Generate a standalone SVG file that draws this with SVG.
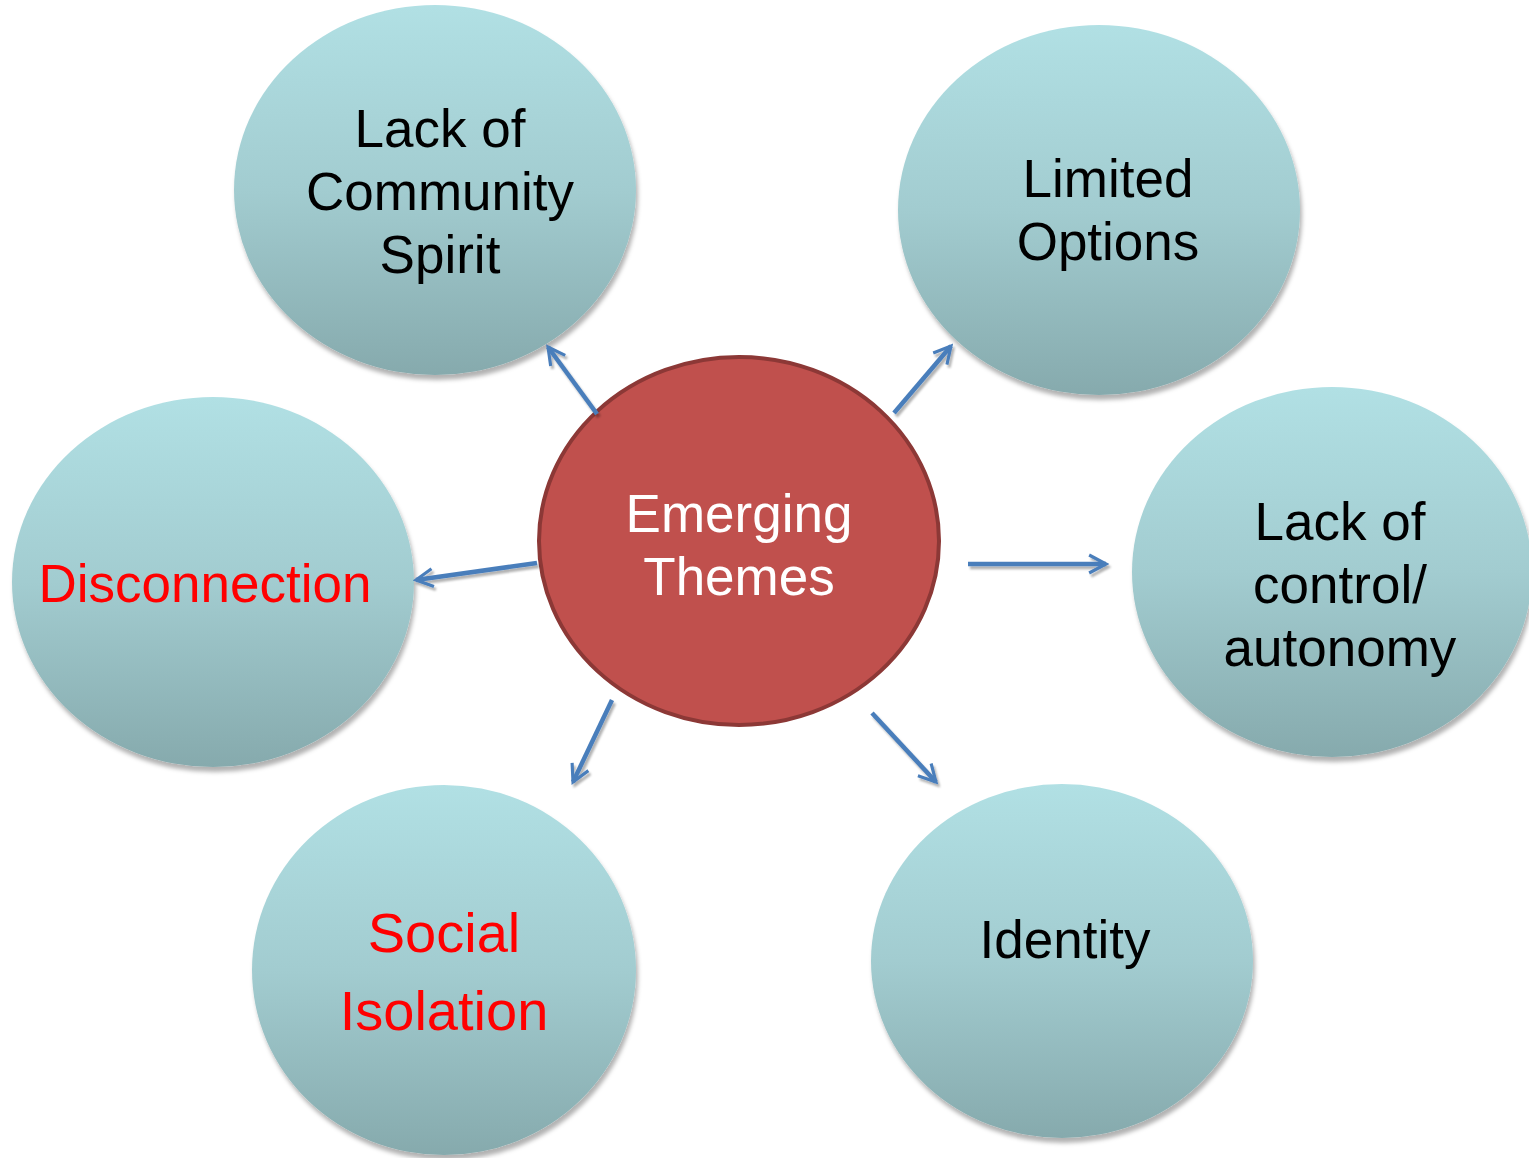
<svg xmlns="http://www.w3.org/2000/svg" width="1529" height="1158" viewBox="0 0 1529 1158">
<style>
.node{fill:url(#teal);filter:url(#sh)}
.t{font-family:"Liberation Sans",Arial,sans-serif;font-size:53px;text-anchor:middle;fill:#000}
.red{fill:#ff0000}
.conn line{stroke:#4a7ebb;stroke-width:4.5;fill:none;marker-end:url(#ah)}
</style>
<defs>
<linearGradient id="teal" x1="0" y1="0" x2="0" y2="1">
<stop offset="0" stop-color="#b1e0e4"/>
<stop offset="0.5" stop-color="#a2ccd0"/>
<stop offset="1" stop-color="#86aaad"/>
</linearGradient>
<filter id="sh" x="-10%" y="-10%" width="125%" height="125%">
<feDropShadow dx="2" dy="5" stdDeviation="2" flood-color="#000" flood-opacity="0.3"/>
</filter>
<filter id="sh2" filterUnits="userSpaceOnUse" x="0" y="0" width="1529" height="1158">
<feDropShadow dx="2" dy="3" stdDeviation="1.2" flood-color="#000" flood-opacity="0.3"/>
</filter>
<marker id="ah" viewBox="0 0 10 10" refX="8.5" refY="5" markerWidth="5" markerHeight="5" orient="auto" markerUnits="strokeWidth">
<path d="M1,1 L8.5,5 L1,9" fill="none" stroke="#4a7ebb" stroke-width="1.4"/>
</marker>
</defs>
<rect width="1529" height="1158" fill="#fff"/>
<g id="n-community">
<ellipse class="node" cx="435" cy="190" rx="201" ry="185"/>
<text class="t" x="440" y="147">Lack of</text>
<text class="t" x="440" y="210">Community</text>
<text class="t" x="440" y="273">Spirit</text>
</g>
<g id="n-options">
<ellipse class="node" cx="1099" cy="210" rx="201" ry="185"/>
<text class="t" x="1108" y="197">Limited</text>
<text class="t" x="1108" y="260">Options</text>
</g>
<g id="n-control">
<ellipse class="node" cx="1332" cy="572" rx="200" ry="185"/>
<text class="t" x="1340" y="540">Lack of</text>
<text class="t" x="1340" y="603">control/</text>
<text class="t" x="1340" y="666">autonomy</text>
</g>
<g id="n-disconnection">
<ellipse class="node" cx="213" cy="582" rx="201" ry="185"/>
<text class="t red" x="205" y="602">Disconnection</text>
</g>
<g id="n-isolation">
<ellipse class="node" cx="444" cy="970" rx="192" ry="185"/>
<text class="t red" x="444" y="952" style="font-size:56px">Social</text>
<text class="t red" x="444" y="1030" style="font-size:56px">Isolation</text>
</g>
<g id="n-identity">
<ellipse class="node" cx="1062" cy="961" rx="191" ry="177"/>
<text class="t" x="1065" y="958">Identity</text>
</g>
<g id="n-center">
<ellipse cx="739" cy="541" rx="200" ry="184" fill="#c0504d" stroke="#8c3836" stroke-width="4"/>
<text class="t" x="739" y="532" style="fill:#fff">Emerging</text>
<text class="t" x="739" y="595" style="fill:#fff">Themes</text>
</g>
<g id="connectors" class="conn" filter="url(#sh2)">
<line x1="597" y1="414" x2="548" y2="347"/>
<line x1="894" y1="413" x2="951" y2="346"/>
<line x1="968" y1="564" x2="1106" y2="564"/>
<line x1="537" y1="563" x2="416" y2="580"/>
<line x1="612" y1="700" x2="573" y2="782"/>
<line x1="872" y1="713" x2="936" y2="782"/>
</g>
</svg>
